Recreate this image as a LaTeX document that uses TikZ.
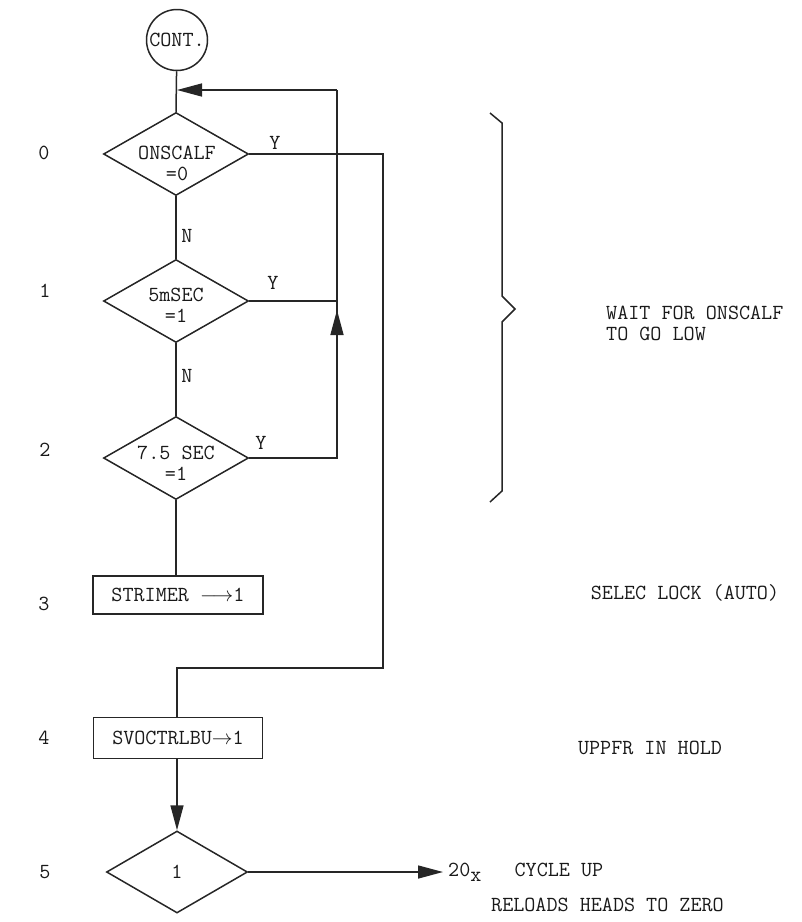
\documentclass[tikz,border=0pt]{standalone}
\usetikzlibrary{shapes.geometric,arrows.meta}
\tikzset{
  ln/.style={line width=1.5pt, draw=black!85},
  dia/.style={diamond, ln, minimum width=145pt, minimum height=83pt, inner sep=0pt},
  boxn/.style={rectangle, ln, inner sep=0pt},
  txt/.style={inner sep=0pt, font=\ttfamily\fontsize{21.5}{21}\selectfont, text=black!90},
  lbl/.style={txt},
  tip/.style={-{Triangle[length=25pt,width=13pt]}}
}
\begin{document}
\begin{tikzpicture}[x=1pt,y=-1pt]
\useasboundingbox (0,0) rectangle (802,922);
% nodes
\node[circle, ln, minimum size=61pt, inner sep=0pt, txt] (cont) at (177,40) {CONT.};
\node[dia] (d0) at (176,154) {};
\node[txt, align=center] (t0) at (177,163) {ONSCALF\\[0pt]=0};
\node[dia] (d1) at (176,301) {};
\node[txt, align=center] (t1) at (176,305) {5mSEC\\[0pt]=1};
\node[dia] (d2) at (176,458) {};
\node[txt, align=center] (t2) at (176,463) {7.5 SEC\\[0pt]=1};
\node[boxn, minimum width=170pt, minimum height=38pt, txt] (b3) at (178,595) {STRIMER $\longrightarrow$1};
\node[boxn, minimum width=169pt, minimum height=41pt, txt] (b4) at (178,738) {SVOCTRLBU$\rightarrow$1};
\node[dia, minimum width=141pt, minimum height=82pt] (d5) at (177,872) {};
\node[txt] (t5) at (177,872) {1};
% connector labels
\node[lbl] (y0) at (275,143) {Y};
\node[lbl] (y1) at (273,283) {Y};
\node[lbl] (y2) at (261,443) {Y};
\node[lbl] (n0) at (187,236) {N};
\node[lbl] (n1) at (187,376) {N};
% row numbers
\node[txt] (r0) at (44,153) {0};
\node[txt] (r1) at (45,291) {1};
\node[txt] (r2) at (45,450) {2};
\node[txt] (r3) at (44,604) {3};
\node[txt] (r4) at (44,738) {4};
\node[txt] (r5) at (45,872) {5};
% right comments
\node[txt, anchor=west, align=left] (wait) at (606,323) {WAIT FOR ONSCALF\\[0pt]TO GO LOW};
\node[txt] (selec) at (685,593) {SELEC LOCK (AUTO)};
\node[txt] (upper) at (650,748) {UPPFR IN HOLD};
\node[txt, anchor=west] (cyc) at (448,872) {20\raisebox{-5pt}{x}\ \ \ CYCLE UP};
\node[txt, anchor=west] (rel) at (491,905) {RELOADS HEADS TO ZERO};
% coordinates
\coordinate (jtop) at (337,90);
\coordinate (jin) at (177,90);
\coordinate (j1) at (337,301);
\coordinate (j2) at (337,458);
\coordinate (aup) at (337,310);
\coordinate (r0a) at (383,154);
\coordinate (r0b) at (383,668);
\coordinate (r0c) at (177,668);
\coordinate (out) at (443,872);
% connectors
\draw[ln] (cont) -- (d0.north);
\draw[ln] (d0.south) -- (d1.north);
\draw[ln] (d1.south) -- (d2.north);
\draw[ln] (d2.south) -- (d2.south |- b3.north);
\draw[ln] (d1.east) -- (j1);
\draw[ln] (d2.east) -- (j2) -- (jtop);
\draw[ln, tip] (j2) -- (aup);
\draw[ln, tip] (jtop) -- (jin);
\draw[ln] (d0.east) -- (r0a) -- (r0b) -- (r0c) -- (r0c |- b4.north);
\draw[ln, tip] (b4.south -| d5.north) -- (d5.north);
\draw[ln, tip] (d5.east) -- (out);
% brace
\draw[ln] (490,113) -- (502,123) -- (502,296) -- (515,309) -- (502,322) -- (502,491) -- (490,502);
\end{tikzpicture}
\end{document}
